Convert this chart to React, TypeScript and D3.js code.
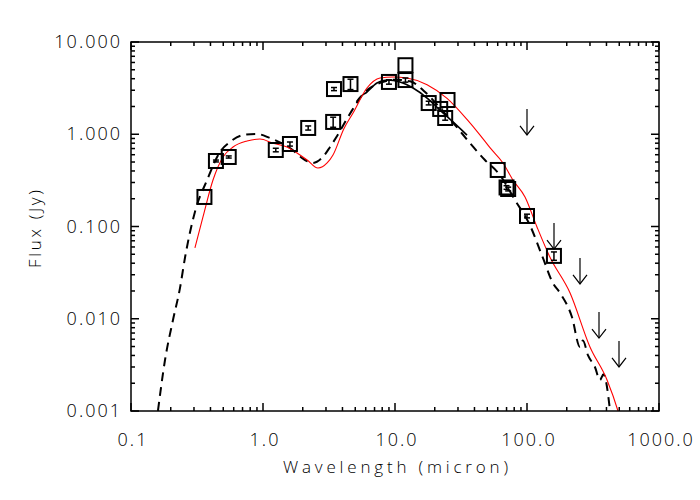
import React from 'react';
import * as d3 from 'd3';

// photometry (micron, Jy) and 1-sigma errors
const photLam = [0.36, 0.44, 0.55, 1.25, 1.6, 2.2, 3.45, 3.4, 4.6, 9.0, 12, 12, 18, 22, 24, 25, 60, 70, 72, 100, 160];
const photFlux = [0.209, 0.513, 0.567, 0.675, 0.784, 1.17, 3.09, 1.36, 3.5, 3.69, 3.87, 5.6, 2.18, 1.88, 1.5, 2.35, 0.41, 0.265, 0.255, 0.13, 0.048];
const photErr = [0, 0.012, 0.015, 0.03, 0.04, 0.06, 0.12, 0.17, 0.45, 0.2, 0.2, 0, 0.1, 0.05, 0.08, 0, 0, 0.012, 0.012, 0.006, 0.005];

// upper limits
const limLam = [100, 160, 250, 350, 500];
const limFlux = [1.88, 0.109, 0.0456, 0.0118, 0.00574];

// dashed model
const model1: [number, number][] = [
    [0.16, 0.001], [0.181, 0.00357], [0.208, 0.0097], [0.235, 0.0215], [0.257, 0.0467],
    [0.305, 0.144], [0.377, 0.319], [0.472, 0.642], [0.562, 0.824], [0.705, 0.98],
    [0.9, 1.007], [1.13, 0.91], [1.6, 0.71], [2.08, 0.526], [2.39, 0.488], [2.84, 0.567],
    [3.22, 0.727], [3.6, 0.933], [4.5, 1.62], [5.93, 2.87], [7.7, 3.6], [10, 3.9],
    [13, 3.75], [16.9, 2.87], [21.9, 1.93], [28.5, 1.26], [37, 0.8], [48, 0.526],
    [62.4, 0.361], [81, 0.194], [105, 0.104], [132, 0.0456], [157, 0.0244], [178, 0.019],
    [219, 0.01045], [252, 0.00494], [265, 0.0058], [290, 0.004], [327, 0.003],
    [357, 0.00217], [380, 0.0025], [426, 0.001],
];

// red model
const model2: [number, number][] = [
    [0.305, 0.0585], [0.351, 0.127], [0.418, 0.319], [0.498, 0.567], [0.593, 0.727],
    [0.757, 0.845], [0.949, 0.889], [1.19, 0.8], [1.52, 0.727], [1.81, 0.626],
    [2.16, 0.526], [2.61, 0.43], [3.06, 0.488], [3.39, 0.596], [4.1, 1.15], [4.81, 1.7],
    [6.13, 3.17], [7.7, 4.07], [9.66, 4.18], [12.3, 4.07], [17.5, 3.45], [24.8, 2.45],
    [35.1, 1.45], [44.1, 0.98], [52.6, 0.71], [65.8, 0.488], [78.3, 0.319], [96.6, 0.209],
    [119, 0.0988], [149, 0.0467], [212, 0.019], [300, 0.00494], [404, 0.00217],
    [489, 0.001], [540, 0.0006],
];

// IRS spectrum
const spectrum: [number, number][] = [
    [5.1, 2.25], [5.4, 2.5], [6.13, 2.87], [7.3, 3.59], [8.69, 3.87], [10.9, 3.69],
    [13.7, 3.17], [17.5, 2.47], [21.9, 1.83], [27.5, 1.36], [35.1, 0.98],
];

const xTicks = [0.1, 1, 10, 100, 1000];
const xTickLabels = ['0.1', '1.0', '10.0', '100.0', '1000.0'];
const yTicks = [0.001, 0.01, 0.1, 1, 10];
const yTickLabels = ['0.001', '0.010', '0.100', '1.000', '10.000'];

function minorTicks(decades: number[]) {
    let ret: number[] = [];
    for (let i = 0; i < decades.length - 1; i++) {
        for (let k = 2; k <= 9; k++) ret.push(decades[i] * k);
    }
    return ret;
}

export default function App() {
    const left = 131, right = 659, top = 42, bottom = 411;
    const x = d3.scaleLog().domain([0.1, 1000]).range([left, right]);
    const y = d3.scaleLog().domain([0.001, 10]).range([bottom, top]);

    const line = d3
        .line<[number, number]>()
        .x(d => x(d[0]))
        .y(d => y(d[1]))
        .curve(d3.curveMonotoneX);

    const font = 'Open Sans, Liberation Sans, sans-serif';
    const xMinor = minorTicks(xTicks);
    const yMinor = minorTicks(yTicks);
    const major = 8, minor = 4;

    return (
        <svg width={700} height={500} style={{ position: 'absolute', left: 0, top: 0, background: '#fff' }}>
            <defs>
                <clipPath id="plot">
                    <rect x={left} y={top} width={right - left} height={bottom - top} />
                </clipPath>
            </defs>

            <g clipPath="url(#plot)" fill="none">
                <path d={line(model1) || ''} stroke="#000" strokeWidth={2} strokeDasharray="9,6" />
                <path d={line(spectrum) || ''} stroke="#000" strokeWidth={1.6} />
                <path d={line(model2) || ''} stroke="#ff0000" strokeWidth={1.1} />
            </g>

            <g fill="none" stroke="#000">
                {photLam.map((l, i) => {
                    const cx = x(l), cy = y(photFlux[i]);
                    const e = photErr[i];
                    return (
                        <g key={i}>
                            <rect x={cx - 7} y={cy - 7} width={14} height={14} strokeWidth={2} />
                            {e > 0 && (
                                <g strokeWidth={1.5}>
                                    <line x1={cx} x2={cx} y1={y(photFlux[i] + e)} y2={y(photFlux[i] - e)} />
                                    <line x1={cx - 3} x2={cx + 3} y1={y(photFlux[i] + e)} y2={y(photFlux[i] + e)} />
                                    <line x1={cx - 3} x2={cx + 3} y1={y(photFlux[i] - e)} y2={y(photFlux[i] - e)} />
                                </g>
                            )}
                        </g>
                    );
                })}
                {limLam.map((l, i) => {
                    const cx = Math.round(x(l)), y0 = y(limFlux[i]);
                    return (
                        <g key={'u' + i} strokeWidth={1.2}>
                            <line x1={cx} x2={cx} y1={y0} y2={y0 + 26} />
                            <polyline points={`${cx - 7},${y0 + 17} ${cx},${y0 + 26} ${cx + 7},${y0 + 17}`} />
                        </g>
                    );
                })}
            </g>

            {/* frame and ticks */}
            <g stroke="#000" strokeWidth={1.5} fill="none">
                <rect x={left} y={top} width={right - left} height={bottom - top} />
                {xTicks.map(t => (
                    <g key={'xm' + t}>
                        <line x1={x(t)} x2={x(t)} y1={bottom} y2={bottom - major} />
                        <line x1={x(t)} x2={x(t)} y1={top} y2={top + major} />
                    </g>
                ))}
                {xMinor.map(t => (
                    <g key={'xn' + t}>
                        <line x1={x(t)} x2={x(t)} y1={bottom} y2={bottom - minor} />
                        <line x1={x(t)} x2={x(t)} y1={top} y2={top + minor} />
                    </g>
                ))}
                {yTicks.map(t => (
                    <g key={'ym' + t}>
                        <line x1={left} x2={left + major} y1={y(t)} y2={y(t)} />
                        <line x1={right} x2={right - major} y1={y(t)} y2={y(t)} />
                    </g>
                ))}
                {yMinor.map(t => (
                    <g key={'yn' + t}>
                        <line x1={left} x2={left + minor} y1={y(t)} y2={y(t)} />
                        <line x1={right} x2={right - minor} y1={y(t)} y2={y(t)} />
                    </g>
                ))}
            </g>

            <g fontFamily={font} fontWeight={300} fontSize={18} fill="#000" letterSpacing={2}>
                {xTicks.map((t, i) => (
                    <text key={'xl' + t} x={x(t) + 2} y={446} textAnchor="middle">
                        {xTickLabels[i]}
                    </text>
                ))}
                {yTicks.map((t, i) => (
                    <text key={'yl' + t} x={122} y={y(t) + 6} textAnchor="end">
                        {yTickLabels[i]}
                    </text>
                ))}
            </g>

            <text
                x={283}
                y={473}
                fontFamily={font}
                fontWeight={300}
                fontSize={17}
                textLength={225}
                lengthAdjust="spacing"
            >
                Wavelength (micron)
            </text>
            <text
                transform={`translate(41, 268) rotate(-90)`}
                fontFamily={font}
                fontWeight={300}
                fontSize={17}
                textLength={78}
                lengthAdjust="spacing"
            >
                Flux (Jy)
            </text>
        </svg>
    );
}
